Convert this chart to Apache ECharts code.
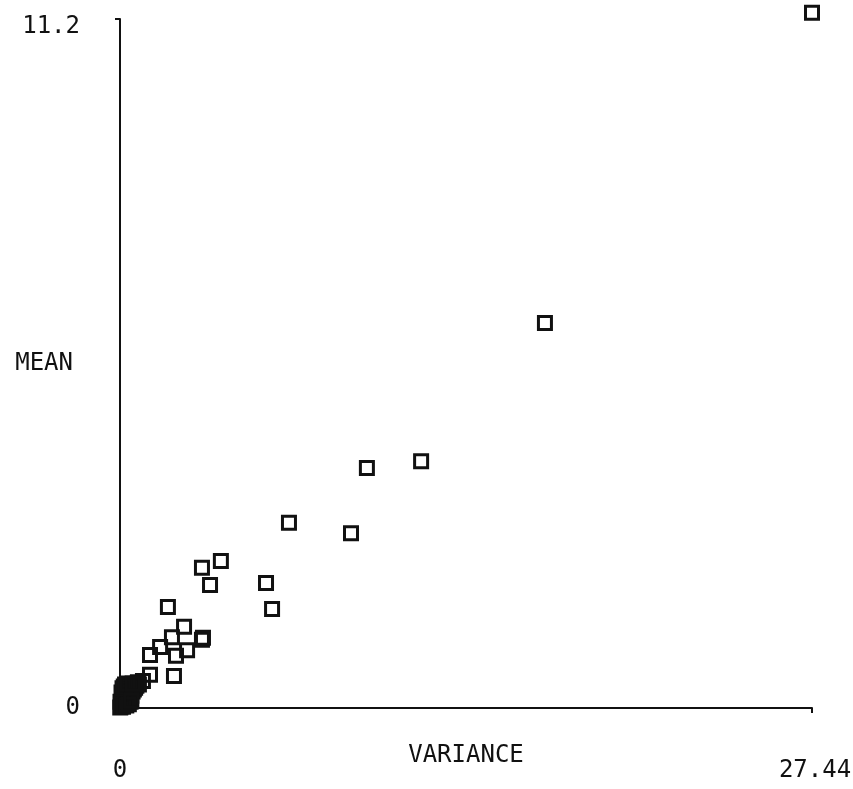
<!DOCTYPE html>
<html>
<head>
<meta charset="utf-8">
<script src="https://cdn.jsdelivr.net/npm/echarts@6/dist/echarts.min.js"></script>
<style>html,body{margin:0;padding:0;background:#fff}#c{width:853px;height:789px}</style>
</head>
<body>
<div id="c"></div>
<script>
var xAxisName = 'VARIANCE';
var yAxisName = 'MEAN';
var xTickLabels = ['0', '27.44'];
var yTickLabels = ['0', '11.2'];
var xMax = 27.44;
var yMax = 11.2;

var variance = [27.44, 16.85, 11.94, 9.79, 6.70, 9.16, 4.00, 3.25, 3.57, 5.79, 6.03, 1.90,
  2.54, 2.06, 3.25, 3.29, 1.59, 2.66, 2.22, 1.19, 2.14, 1.19, 0.91, 0.71,
  0.05, 0.10, 0.15, 0.20, 0.25, 0.30, 0.35, 0.40, 0.45, 0.50, 0.55, 0.60, 0.65,
  0.08, 0.12, 0.18, 0.22, 0.28, 0.32, 0.38, 0.42, 0.70, 0.75, 0.02, 0.06, 0.10,
  0.15, 0.20, 0.30, 0.50, 0.04, 0.01, 0.12, 0.25, 0.35, 0.45];
var mean = [11.3, 6.26, 4.01, 3.90, 3.01, 2.84, 2.39, 2.28, 2.00, 2.03, 1.61, 1.64,
  1.32, 1.15, 1.11, 1.14, 0.99, 0.94, 0.85, 0.86, 0.52, 0.54, 0.44, 0.42,
  0.03, 0.08, 0.05, 0.12, 0.10, 0.18, 0.15, 0.22, 0.20, 0.27, 0.30, 0.33, 0.36,
  0.15, 0.22, 0.28, 0.20, 0.30, 0.25, 0.32, 0.10, 0.40, 0.38, 0.10, 0.25, 0.32,
  0.35, 0.38, 0.40, 0.40, 0.05, 0.01, 0.02, 0.04, 0.06, 0.12];

var points = variance.map(function (v, i) { return [v, mean[i]]; });

var font = 'DejaVu Sans Mono';
var chart = echarts.init(document.getElementById('c'));
chart.setOption({
  animation: false,
  backgroundColor: '#ffffff',
  grid: { left: 120, right: 41, top: 19, bottom: 81, containLabel: false, outerBoundsMode: 'none' },
  xAxis: {
    type: 'value', min: 0, max: xMax, interval: xMax,
    name: xAxisName, nameLocation: 'middle', nameGap: 36, nameMoveOverlap: false,
    nameTextStyle: { fontFamily: font, fontSize: 24, color: '#111' },
    axisLine: { show: true, onZero: false, lineStyle: { color: '#111', width: 2 } },
    axisTick: { show: true, length: 5, lineStyle: { color: '#111', width: 2 } },
    splitLine: { show: false },
    axisLabel: {
      margin: 51, fontFamily: font, fontSize: 24, color: '#111',
      formatter: function (v) { return v === 0 ? xTickLabels[0] : '{r|' + xTickLabels[1] + '}'; },
      rich: { r: { fontFamily: font, fontSize: 24, color: '#111', padding: [0, 0, 0, 6] } },
      showMaxLabel: true, showMinLabel: true
    }
  },
  yAxis: {
    type: 'value', min: 0, max: yMax, interval: yMax,
    name: yAxisName, nameLocation: 'middle', nameGap: 47, nameRotate: 0, nameMoveOverlap: false,
    nameTextStyle: { fontFamily: font, fontSize: 24, color: '#111', padding: [0, 0, 12, 0] },
    axisLine: { show: true, onZero: false, lineStyle: { color: '#111', width: 2 } },
    axisTick: { show: true, length: 5, lineStyle: { color: '#111', width: 2 } },
    splitLine: { show: false },
    axisLabel: {
      margin: 40, fontFamily: font, fontSize: 24, color: '#111',
      formatter: function (v) { return v === 0 ? yTickLabels[0] : '{t|' + yTickLabels[1] + '}'; },
      rich: { t: { fontFamily: font, fontSize: 24, color: '#111', padding: [16, 0, 0, 0] } },
      showMaxLabel: true, showMinLabel: true
    }
  },
  series: [{
    type: 'scatter',
    data: points,
    symbol: 'rect',
    symbolSize: 13,
    clip: false,
    itemStyle: { color: 'rgba(0,0,0,0)', borderColor: '#111', borderWidth: 3, opacity: 1 },
    emphasis: { disabled: true }
  }]
});
</script>
</body>
</html>
